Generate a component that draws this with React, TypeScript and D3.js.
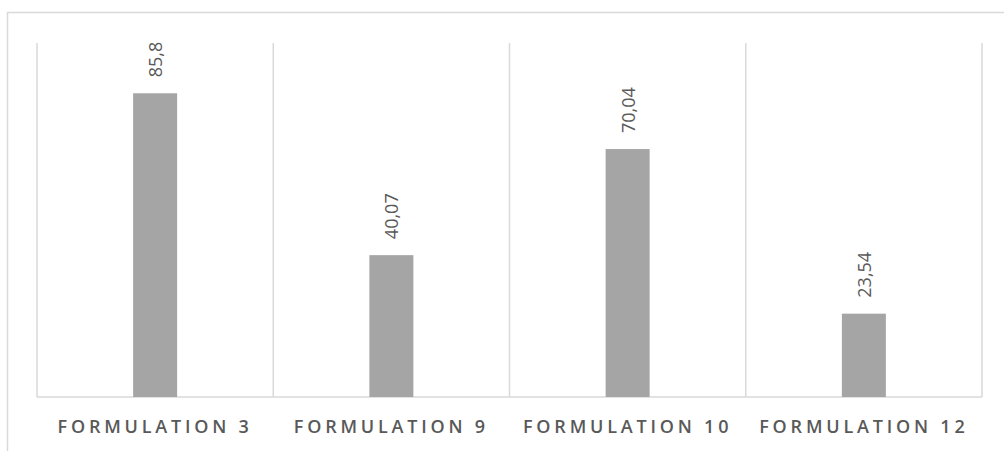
import React from "react";
import * as d3 from "d3";

const categories: string[] = ["FORMULATION 3", "FORMULATION 9", "FORMULATION 10", "FORMULATION 12"];
const values: number[] = [85.8, 40.07, 70.04, 23.54];
const valueLabels: string[] = ["85,8", "40,07", "70,04", "23,54"];

const W = 1004;
const H = 451;
const plot = { left: 37, right: 982, top: 43, bottom: 397 };

export default function App() {
  const x = d3.scaleBand<string>().domain(categories).range([plot.left, plot.right]).paddingInner(0).paddingOuter(0);
  const y = d3.scaleLinear().domain([0, 100]).range([plot.bottom, plot.top]);
  const barW = 44;
  const separators = categories.map((c) => x(c)!).concat([plot.right]);

  return (
    <svg width={W} height={H} style={{ position: "absolute", left: 0, top: 0 }}>
      <rect x={0} y={0} width={W} height={H} fill="#fff" />
      {/* outer chart frame */}
      <rect x={7.5} y={12.5} width={W + 20} height={H + 20} fill="none" stroke="#d9d9d9" strokeWidth={1.5} />
      {/* category separators */}
      {separators.map((sx, i) => (
        <line key={i} x1={sx} x2={sx} y1={plot.top} y2={plot.bottom} stroke="#d9d9d9" strokeWidth={1.5} />
      ))}
      <line x1={plot.left} x2={plot.right} y1={plot.bottom} y2={plot.bottom} stroke="#d9d9d9" strokeWidth={1.5} />
      {categories.map((c, i) => {
        const cx = x(c)! + x.bandwidth() / 2;
        const top = y(values[i]);
        return (
          <g key={c}>
            <rect x={cx - barW / 2} y={top} width={barW} height={plot.bottom - top} fill="#a5a5a5" />
            <text
              transform={`translate(${cx + 7},${top - 16}) rotate(-90)`}
              fontFamily="Open Sans"
              fontSize={18}
              fill="#595959"
              textAnchor="start"
            >
              {valueLabels[i]}
            </text>
            <text
              x={cx}
              y={433}
              textAnchor="middle"
              fontFamily="Open Sans"
              fontSize={18}
              fontWeight={600}
              letterSpacing={3.8}
              fill="#595959"
            >
              {c}
            </text>
          </g>
        );
      })}
    </svg>
  );
}
